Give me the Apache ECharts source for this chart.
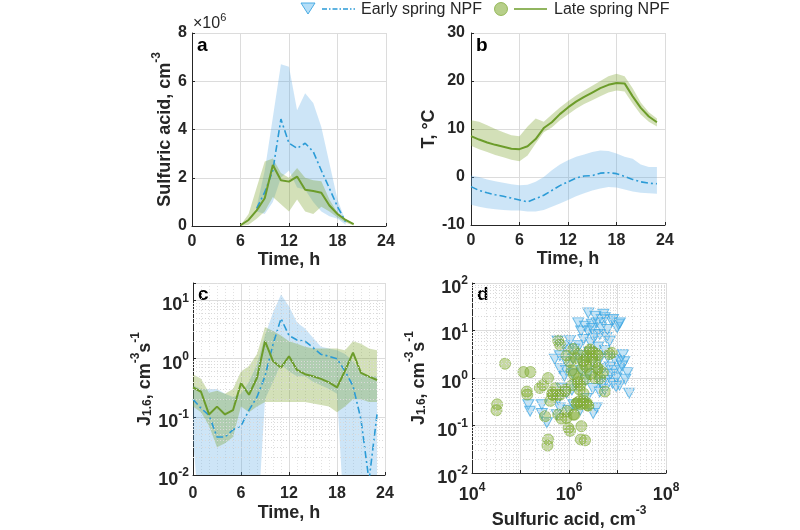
<!DOCTYPE html>
<html><head><meta charset="utf-8">
<script src="https://cdn.jsdelivr.net/npm/echarts@6/dist/echarts.min.js"></script>
<style>html,body{margin:0;padding:0;background:#fff}#c{width:800px;height:530px}</style>
</head><body><div id="c"></div>
<script>
// ---------- Panel a : sulfuric acid (units of 1e6 cm^-3) ----------
const hoursAEarly = [8,9,10,11,12,13,14,15,16,17,18,19];
const acidEarlyMean  = [0.73,1.4,2.3,4.43,3.43,3.22,3.43,3.08,2.3,1.56,0.8,0.18];
const acidEarlyUpper = [0.8,2.3,4.5,6.7,6.6,4.8,5.5,5.1,4.1,2.6,1.1,0.2];
const acidEarlyLower = [0.6,0.5,1.0,2.0,2.3,1.6,1.5,1.0,0.6,0.4,0.3,0.05];
const hoursALate = [6,7,8,9,10,11,12,13,14,15,16,17,18,19,20];
const acidLateMean  = [0.03,0.25,0.65,1.15,2.53,1.9,1.84,2.05,1.5,1.45,1.38,0.85,0.5,0.25,0.08];
const acidLateUpper = [0.03,0.5,1.6,2.67,2.8,2.2,2.0,2.4,2.0,1.9,1.85,1.1,0.55,0.3,0.08];
const acidLateLower = [0.0,0.05,0.3,0.6,1.2,0.9,0.6,1.1,0.6,0.5,0.8,0.6,0.35,0.15,0.02];

// ---------- Panel b : temperature (°C) ----------
const hoursB = [0,1,2,3,4,5,6,7,8,9,10,11,12,13,14,15,16,17,18,19,20,21,22,23];
const tEarlyMean  = [-2.0,-2.8,-3.3,-3.7,-4.0,-4.4,-4.8,-5.2,-4.5,-3.8,-2.8,-1.8,-1.0,-0.2,0.2,0.3,0.8,0.9,0.7,0.1,-0.5,-1.0,-1.3,-1.4];
const tEarlyUpper = [0.3,0.0,-0.5,-0.9,-1.2,-1.5,-1.7,-1.6,-1.0,0.0,1.4,2.6,3.5,4.2,4.7,5.2,5.5,5.4,4.9,4.2,3.8,2.6,2.1,2.1];
const tEarlyLower = [-5.8,-6.2,-6.5,-6.7,-6.9,-7.0,-7.0,-7.2,-7.2,-6.9,-6.2,-5.5,-4.8,-4.0,-3.4,-2.8,-2.4,-2.1,-2.2,-2.6,-3.0,-3.3,-3.4,-3.5];
const tLateMean  = [8.5,7.8,7.2,6.7,6.3,5.9,5.8,6.4,7.9,10.2,11.4,13.1,14.5,15.7,16.7,17.6,18.5,19.2,19.6,19.5,16.8,14.4,12.6,11.4];
const tLateUpper = [11.8,11.5,10.8,10.0,9.3,8.7,8.5,10.5,12.2,11.5,13.0,14.5,15.8,17.0,18.0,19.0,20.0,21.0,21.5,21.0,18.5,15.5,13.5,12.2];
const tLateLower = [6.5,5.8,5.2,4.6,4.1,3.6,3.3,4.5,7.0,9.3,10.3,11.8,13.0,14.2,15.2,16.0,16.8,17.6,18.0,17.8,15.3,13.0,11.5,10.5];

// ---------- Panel c : J1.6 (cm^-3 s^-1) ----------
const hoursC = [0,1,2,3,4,5,6,7,8,9,10,11,12,13,14,15,16,17,18,19,20,21,22,23];
const jEarlyMean  = [0.20,0.14,0.107,0.045,0.045,0.06,0.07,0.13,0.22,0.5,1.76,4.9,2.5,2.1,2.0,1.55,1.19,1.1,1.0,0.61,0.34,0.09,0.008,0.11];
const jEarlyUpper = [0.35,0.3,0.3,0.3,0.25,0.22,0.25,0.4,0.8,2.5,6.2,12.7,8.0,4.2,3.3,2.3,1.6,1.5,1.4,1.2,0.9,0.6,0.5,0.5];
const jEarlyLower = [0.04,0.001,0.001,0.001,0.001,0.001,0.001,0.001,0.001,0.2,0.4,0.8,0.6,0.5,0.5,0.4,0.35,0.3,0.25,0.001,0.001,0.001,0.001,0.001];
const jLateMean  = [0.32,0.27,0.11,0.15,0.11,0.13,0.38,0.24,0.47,2.0,0.91,0.70,1.1,0.64,0.54,0.50,0.45,0.39,0.32,0.62,1.27,0.57,0.49,0.43];
const jLateUpper = [0.54,0.45,0.26,0.28,0.25,0.3,0.6,0.75,1.2,3.5,3.0,2.5,2.0,1.8,1.6,1.5,1.5,1.5,1.5,1.4,2.0,1.8,1.5,1.4];
const jLateLower = [0.15,0.12,0.07,0.03,0.035,0.045,0.15,0.12,0.15,0.18,0.18,0.18,0.18,0.18,0.18,0.17,0.16,0.15,0.12,0.15,0.2,0.2,0.18,0.18];

// ---------- Panel d : J1.6 vs sulfuric acid ----------
const scatterEarly = [
 [1.55e6,14.5],[2.14e6,12.3],[2.95e6,13.5],[3.7e6,14.5],[4.7e6,17],[5.5e6,18.6],[7.6e6,15.8],[1.05e7,13.5],[9.8e6,11.5],
 [1.78e6,9.8],[2.45e6,9.8],[3.4e6,8.3],[4.3e6,8.3],[5.9e6,7.1],[6.9e6,6.0],[5.8e5,6.0],[7.9e5,4.8],[1.0e6,3.8],[1.29e6,4.1],
 [1.62e6,4.8],[5.1e5,2.5],[6.5e5,2.95],[8.7e5,2.2],[1.2e6,2.5],[1.66e6,2.35],[2.24e6,2.5],[3.1e6,2.2],[4.3e6,2.5],[6.3e6,2.75],
 [8.7e6,2.5],[1.1e7,2.35],[1.38e7,2.2],[6.5e5,1.58],[8.7e5,1.45],[1.2e6,1.23],[1.78e6,1.45],[2.45e6,1.23],[3.6e6,1.35],[5.0e6,1.58],
 [6.9e6,1.7],[8.7e6,1.45],[1.1e7,1.58],[4.3e6,0.83],[5.9e6,0.89],[7.9e6,0.78],[1.1e7,0.71],[1.74e7,0.48],[3.1e6,0.6],[4.3e6,0.51],
 [5.4e6,0.56],[9.3e6,0.66],[1.45e5,0.275],[2.75e5,0.275],[1.58e5,0.2],[2.75e5,0.18],[3.5e5,0.115],[6.0e5,0.35],[6.5e5,0.235],
 [5.6e5,0.17],[9.8e5,0.21],[1.23e6,0.275],[1.7e6,0.21],[3.16e6,0.18],[3.7e6,0.235],[2.3e6,0.37],[8.9e5,0.48],[1.15e6,0.56],
 [2.5e6,23.4],[5.1e6,21.9],[8.1e6,17],[1.12e7,14.5],[3.5e6,20],[2.0e6,6.5],[2.8e6,5.5],[3.3e6,7.0],[4.0e6,4.5],[2.6e6,3.5],
 [5.5e6,3.8],[3.0e6,11],[1.9e6,3.0],[4.6e6,11.5],[7.2e6,1.2],[9.5e6,1.0],[1.25e7,1.8],[1.6e7,1.3],[2.2e6,0.9],[1.4e6,0.7],
 [8.0e5,1.1],[6.2e6,10.5],[1.3e7,3.1],[1.45e7,0.95],[1.05e6,6.2],[7.0e5,0.62],[4.8e6,0.75]
];
const scatterLate = [
 [4.8e4,2.0],[3.3e4,0.28],[3.2e4,0.21],[1.15e5,1.34],[1.6e5,1.34],[1.35e5,0.52],[1.38e5,0.45],[2.9e5,0.71],[3.7e5,1.0],
 [2.5e5,0.62],[4.1e5,0.33],[4.75e5,0.44],[6.5e5,0.44],[8.3e5,0.52],[3.2e5,0.157],[6.0e5,0.17],[8.9e5,0.145],[1.05e6,0.077],
 [1.23e6,0.17],[3.7e5,0.051],[3.6e5,0.038],[1.8e6,0.097],[1.75e6,0.051],[2.14e6,0.049],[9.8e5,0.089],[6.0e5,6.1],[6.5e5,5.0],
 [2.31e6,2.5],[2.71e6,3.8],[2.14e6,1.85],[3.44e6,2.16],[3.72e6,3.2],[7.6e6,3.4],[1.56e6,0.98],[1.69e6,0.71],[1.98e6,0.33],
 [1.44e6,0.30],[2.31e6,0.30],[2.5e6,0.26],[1.98e6,0.48],[1.05e6,2.16],[1.13e6,1.45],[8.9e5,3.0],[1.23e6,4.1],[4.35e6,0.98],
 [5.5e6,0.52],[1.55e6,3.2],[2.35e6,3.0],[2.7e6,4.0],[3.2e6,3.5],[3.9e6,3.0],[6.8e6,3.2],[1.86e6,1.6],[2.3e6,1.7],[2.15e6,0.95],
 [1.55e6,0.82],[1.15e6,0.71],[1.65e6,0.57],[1.3e6,0.17],[8.3e5,0.57],[5.9e5,0.44],[3.9e6,1.58],[3.4e6,1.0],[4.0e6,1.6],
 [1.45e6,0.29],[1.75e6,0.28],[2.0e6,0.29],[2.4e6,0.27],[1.6e6,0.32],[7.0e5,0.14],[9.0e5,0.2],[4.5e5,0.45],[5.2e5,0.62],
 [3.0e6,2.6],[2.0e6,2.3],[1.25e6,1.2],[5.0e6,1.3],[2.8e6,1.2],[1.4e6,2.6],[4.6e5,0.5]
];

const legendNames = ['Early spring NPF','Late spring NPF'];

// ---------- styles ----------
const FONT = 'Liberation Sans, Arial, Helvetica, sans-serif';
const TXT = '#262626';
const BLUE = '#2b9bd6', BLUE_BAND = 'rgba(90,170,230,0.30)';
const GREEN = '#6c9c2a', GREEN_BAND = 'rgba(120,160,40,0.33)';
const GRID = '#dcdcdc';

const chart = echarts.init(document.getElementById('c'), null, {renderer:'canvas'});

const richLog = {
  b:{fontSize:18,fontWeight:'bold',fontFamily:FONT,color:TXT,lineHeight:22,verticalAlign:'bottom'},
  s:{fontSize:12,fontWeight:'bold',fontFamily:FONT,color:TXT,lineHeight:10,verticalAlign:'top'}
};
function logFmt(onlyEven){
  return function(v){
    const e = Math.round(Math.log10(v));
    if (Math.abs(Math.log10(v) - e) > 1e-6) return '';
    if (onlyEven && e % 2 !== 0) return '';
    return '{b|10}{s|' + e + '}';
  };
}
const nameRich = {
  n:{fontSize:18,fontWeight:'bold',fontFamily:FONT,color:TXT,lineHeight:24,verticalAlign:'bottom'},
  s:{fontSize:12,fontWeight:'bold',fontFamily:FONT,color:TXT,lineHeight:12,verticalAlign:'top'},
  u:{fontSize:12,fontWeight:'bold',fontFamily:FONT,color:TXT,lineHeight:14,verticalAlign:'bottom'}
};

function linAxis(grid, min, max, interval, extra){
  return Object.assign({
    type:'value', gridIndex:grid, min:min, max:max, interval:interval,
    axisLine:{show:true,onZero:false,lineStyle:{color:TXT,width:1}},
    axisTick:{show:true,inside:true,length:3,lineStyle:{color:TXT}},
    axisLabel:{color:TXT,fontSize:16,fontWeight:'bold',fontFamily:FONT,margin:8},
    splitLine:{show:true,lineStyle:{color:GRID,width:1}}
  }, extra||{});
}
function logAxis(grid, min, max, extra){
  return Object.assign({
    type:'log', logBase:10, gridIndex:grid, min:min, max:max,
    axisLine:{show:true,onZero:false,lineStyle:{color:TXT,width:1}},
    axisTick:{show:true,inside:true,length:3,lineStyle:{color:TXT}},
    axisLabel:{formatter:logFmt(false),rich:richLog,margin:4,padding:[6,0,0,0]},
    splitLine:{show:true,lineStyle:{color:GRID,width:1}}
  }, extra||{});
}
const timeName = {name:'Time, h',nameLocation:'middle',nameGap:20,
  nameTextStyle:{fontSize:18,fontWeight:'bold',fontFamily:FONT,color:TXT}};

function zip(xs, ys){ return xs.map((x,i)=>[x, ys[i]]); }
// shaded band between lower and upper, drawn through the axes' scales
function band(xs, lo, hi, color, xi, yi){
  const data = xs.map((x,i)=>[x, lo[i], hi[i]]);
  return {type:'custom', xAxisIndex:xi, yAxisIndex:yi, data:data, silent:true, z:1, clip:true,
    encode:{x:0, y:[1,2]},
    renderItem:function(params, api){
      if (params.dataIndex !== 0) return null;
      const top = [], bot = [];
      for (let i=0;i<data.length;i++){
        top.push(api.coord([data[i][0], data[i][2]]));
        bot.push(api.coord([data[i][0], data[i][1]]));
      }
      const cs = params.coordSys;
      return {type:'group', children:[{type:'polygon', shape:{points:top.concat(bot.reverse())},
        style:{fill:color, stroke:null}}],
        clipPath:{type:'rect', shape:{x:cs.x, y:cs.y, width:cs.width, height:cs.height}}};
    }};
}
function meanLine(xs, ys, color, dashed, xi, yi){
  return {type:'line', xAxisIndex:xi, yAxisIndex:yi, data:zip(xs, ys), symbol:'none', z:3,
    lineStyle:{color:color, width: dashed?1.6:2, type: dashed?[7,3,2,3]:'solid'}};
}
function minorLogLines(minExp, maxExp, maxVal, axisKey){
  const arr = [];
  for (let e=minExp; e<maxExp; e++) for (let k=2;k<=9;k++){
    const v = k*Math.pow(10,e); if (v < maxVal) { const o={}; o[axisKey]=v; arr.push(o); }
  }
  return arr;
}
const minorStyle = {silent:true, symbol:['none','none'], label:{show:false}, animation:false,
  lineStyle:{color:'#d9d9d9', type:[1,2], width:1}, emphasis:{disabled:true}};

const series = [];
series.push(band(hoursAEarly, acidEarlyLower, acidEarlyUpper, BLUE_BAND, 0, 0));
series.push(band(hoursALate, acidLateLower, acidLateUpper, GREEN_BAND, 0, 0));
series.push(meanLine(hoursAEarly, acidEarlyMean, BLUE, true, 0, 0));
series.push(meanLine(hoursALate, acidLateMean, GREEN, false, 0, 0));
series.push(band(hoursB, tEarlyLower, tEarlyUpper, BLUE_BAND, 1, 1));
series.push(band(hoursB, tLateLower, tLateUpper, GREEN_BAND, 1, 1));
series.push(meanLine(hoursB, tEarlyMean, BLUE, true, 1, 1));
series.push(meanLine(hoursB, tLateMean, GREEN, false, 1, 1));
series.push(band(hoursC, jEarlyLower, jEarlyUpper, BLUE_BAND, 2, 2));
series.push(band(hoursC, jLateLower, jLateUpper, GREEN_BAND, 2, 2));
const cEarly = meanLine(hoursC, jEarlyMean, BLUE, true, 2, 2);
cEarly.markLine = Object.assign({data:minorLogLines(-2,2,20,'yAxis')}, minorStyle);
series.push(cEarly);
series.push(meanLine(hoursC, jLateMean, GREEN, false, 2, 2));
series.push({type:'scatter', name:legendNames[0], xAxisIndex:3, yAxisIndex:3, data:scatterEarly,
  symbol:'triangle', symbolRotate:180, symbolSize:[11,10], z:3,
  itemStyle:{color:'rgba(120,195,240,0.55)', borderColor:'rgba(60,165,225,0.9)', borderWidth:1},
  markLine:Object.assign({data:minorLogLines(4,8,1e9,'xAxis').concat(minorLogLines(-2,2,1e9,'yAxis'))}, minorStyle)});
series.push({type:'scatter', name:legendNames[1], xAxisIndex:3, yAxisIndex:3, data:scatterLate,
  symbol:'circle', symbolSize:11, z:4,
  itemStyle:{color:'rgba(135,175,60,0.6)', borderColor:'rgba(120,165,45,0.7)', borderWidth:1}});

const option = {
  animation:false,
  backgroundColor:'#fff',
  grid:[
    {left:192, top:33, width:194, height:193},
    {left:471, top:33, width:194, height:192},
    {left:193, top:283, width:192, height:192},
    {left:472, top:283, width:194, height:193}
  ],
  xAxis:[
    linAxis(0,0,24,6,timeName),
    linAxis(1,0,24,6,timeName),
    linAxis(2,0,24,6,Object.assign({},timeName,{nameGap:29,
      minorTick:{show:false,splitNumber:6},minorSplitLine:{show:true,lineStyle:{color:'#e2e2e2',type:[1,2]}},
      axisLabel:{color:TXT,fontSize:16,fontWeight:'bold',fontFamily:FONT,margin:11}})),
    logAxis(3,1e4,1e8,{axisLabel:{formatter:logFmt(true),rich:richLog,margin:9},
      name:'{n|Sulfuric acid, cm}{s|-3}',nameLocation:'middle',nameGap:28,
      nameTextStyle:{rich:nameRich}})
  ],
  yAxis:[
    linAxis(0,0,8,2,{name:'{n|Sulfuric acid, cm}{s|-3}',nameLocation:'middle',nameRotate:90,nameGap:17,
      nameTextStyle:{rich:nameRich}, axisLabel:{color:TXT,fontSize:16,fontWeight:'bold',fontFamily:FONT,margin:5}}),
    linAxis(1,-10,30,10,{name:'{n|T, °C}',nameLocation:'middle',nameRotate:90,nameGap:31,
      nameTextStyle:{rich:nameRich}, axisLabel:{color:TXT,fontSize:16,fontWeight:'bold',fontFamily:FONT,margin:6}}),
    logAxis(2,0.01,20,{name:'{n|J}{u|1.6}{n|, cm}{s|-3}{n|s}{s|-1}',nameLocation:'middle',nameRotate:90,nameGap:39,
      nameTextStyle:{rich:nameRich}}),
    logAxis(3,0.01,100,{name:'{n|J}{u|1.6}{n|, cm}{s|-3}{n|s}{s|-1}',nameLocation:'middle',nameRotate:90,nameGap:44,
      nameTextStyle:{rich:nameRich}})
  ],
  series:series,
  graphic:[
    {type:'text', left:197, top:36, style:{text:'a', font:'bold 19px '+FONT, fill:'#000'}},
    {type:'text', left:476, top:36, style:{text:'b', font:'bold 19px '+FONT, fill:'#000'}},
    {type:'text', left:198, top:285, style:{text:'c', font:'bold 19px '+FONT, fill:'#000'}},
    {type:'text', left:477, top:285, style:{text:'d', font:'bold 19px '+FONT, fill:'#000'}},
    {type:'text', left:193, top:12, style:{text:'{m|×10}{e|6}', rich:{
      m:{fontSize:16,fontFamily:FONT,fill:TXT,lineHeight:20,verticalAlign:'bottom'},
      e:{fontSize:11,fontFamily:FONT,fill:TXT,lineHeight:10,verticalAlign:'top'}}}},
    {type:'polygon', shape:{points:[[301,3],[315,3],[308,14]]}, style:{fill:'rgba(120,195,240,0.55)', stroke:'rgba(60,165,225,0.9)', lineWidth:1}},
    {type:'line', shape:{x1:322,y1:9,x2:355,y2:9}, style:{stroke:BLUE, lineWidth:1.3, lineDash:[5,2,1.5,2]}},
    {type:'text', left:361, top:2, style:{text:legendNames[0], font:'16px '+FONT, fill:TXT}},
    {type:'circle', shape:{cx:501,cy:9,r:6.5}, style:{fill:'rgba(135,175,60,0.6)', stroke:'rgba(120,165,45,0.7)', lineWidth:1}},
    {type:'line', shape:{x1:514,y1:9,x2:547,y2:9}, style:{stroke:GREEN, lineWidth:1.5}},
    {type:'text', left:554, top:2, style:{text:legendNames[1], font:'16px '+FONT, fill:TXT}}
  ]
};
chart.setOption(option);
</script></body></html>
